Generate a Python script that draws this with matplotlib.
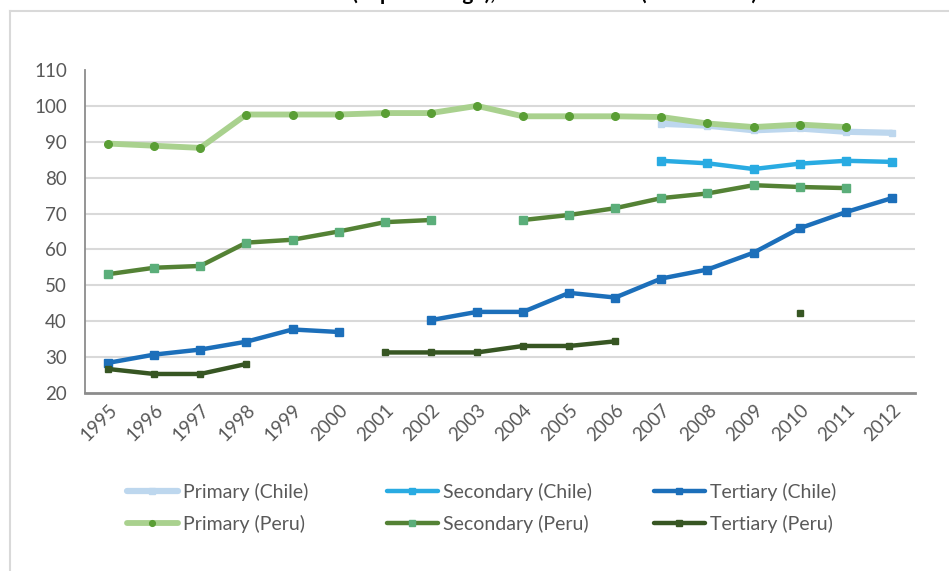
import numpy as np
import matplotlib
matplotlib.use("Agg")
import matplotlib.pyplot as plt
from matplotlib.lines import Line2D

nan = np.nan
years = [str(y) for y in range(1995, 2013)]

primary_chile = [nan]*12 + [95.0, 94.5, 93.2, 93.7, 92.8, 92.5]
secondary_chile = [nan]*12 + [84.7, 84.0, 82.4, 83.9, 84.7, 84.4]
tertiary_chile = [28.4, 30.7, 32.1, 34.3, 37.7, 37.0, nan, 40.3, 42.6, 42.6,
                  47.9, 46.6, 51.9, 54.4, 59.1, 65.9, 70.4, 74.3]
primary_peru = [89.5, 88.9, 88.3, 97.6, 97.6, 97.6, 98.0, 98.0, 100.0, 97.1,
                97.1, 97.1, 96.9, 95.1, 94.1, 94.8, 94.1, nan]
secondary_peru = [53.1, 54.9, 55.4, 61.9, 62.7, 65.0, 67.6, 68.2, nan, 68.2,
                  69.6, 71.5, 74.3, 75.6, 77.9, 77.4, 77.1, nan]
tertiary_peru = [26.7, 25.3, 25.3, 28.1, nan, nan, 31.3, 31.3, 31.3, 33.1,
                 33.1, 34.4, nan, nan, nan, 42.4, nan, nan]

title = "Gross Enrollment Ratio (in percentage), Chile and Peru (1995-2012)"
FONT = ["Lato", "DejaVu Sans"]
plt.rcParams['font.family'] = FONT
TXT = "#595959"

fig = plt.figure(figsize=(9.49, 5.71), dpi=100)
W, H = 949, 571
ax = fig.add_axes([85/W, 1-393/H, (915-85)/W, (393-70)/H])
x = np.arange(len(years))

series = [
    ("Primary (Chile)", primary_chile, "#BDD7EE", "#BDD7EE", "s", 4.5, 5),
    ("Secondary (Chile)", secondary_chile, "#29ABE2", "#29ABE2", "s", 3.2, 5.5),
    ("Tertiary (Chile)", tertiary_chile, "#1C6FBA", "#1C6FBA", "s", 3.2, 5.5),
    ("Primary (Peru)", primary_peru, "#A9D18E", "#5A9E35", "o", 4.2, 5.5),
    ("Secondary (Peru)", secondary_peru, "#548235", "#5BAE7A", "s", 3.2, 5.5),
    ("Tertiary (Peru)", tertiary_peru, "#375623", "#375623", "s", 3.2, 5),
]
handles = {}
for name, vals, lc, mc, mk, lw, ms in series:
    h, = ax.plot(x, vals, color=lc, lw=lw, marker=mk, markersize=ms,
                 markerfacecolor=mc, markeredgecolor=mc, solid_capstyle='round',
                 label=name)
    handles[name] = h

ax.set_xlim(-0.5, len(years)-0.5)
ax.set_ylim(20, 110)
ax.set_yticks(range(20, 111, 10))
ax.set_xticks(x)
ax.set_xticklabels(years, rotation=45, ha='right', rotation_mode='anchor')
ax.tick_params(axis='both', length=0, colors=TXT, labelsize=13.5)
ax.tick_params(axis='x', pad=6)
ax.tick_params(axis='y', pad=13)
ax.yaxis.grid(True, color="#D9D9D9", lw=1.5)
ax.set_axisbelow(True)
gl = ax.get_ygridlines()
gl[0].set_visible(False)
gl[-1].set_visible(False)
for s in ['top', 'right']:
    ax.spines[s].set_visible(False)
ax.spines['left'].set_color("#8C8C8C")
ax.spines['left'].set_linewidth(1.3)
ax.spines['bottom'].set_color("#8C8C8C")
ax.spines['bottom'].set_linewidth(2)

# legends (three columns)
cols = [("Primary (Chile)", "Primary (Peru)"),
        ("Secondary (Chile)", "Secondary (Peru)"),
        ("Tertiary (Chile)", "Tertiary (Peru)")]
xs = [127, 387, 654]
for (a, b), xp in zip(cols, xs):
    fig.legend([handles[a], handles[b]], [a, b], loc='center left',
               bbox_to_anchor=(xp/W, 1-508/H), frameon=False, fontsize=14,
               handlelength=2.6, handletextpad=0.3, labelspacing=0.72,
               markerscale=0.75, labelcolor=TXT, borderpad=0, borderaxespad=0)

# frame and clipped title
fig.add_artist(Line2D([10/W, 1], [1-11/H, 1-11/H], color="#D9D9D9", lw=1.5))
fig.add_artist(Line2D([10/W, 10/W], [1-11/H, 0], color="#D9D9D9", lw=1.5))
fig.text(757/W, 1.0, title, ha='right', va='baseline', fontsize=15,
         fontweight='bold', color='black')

fig.savefig("out.png", dpi=100)
